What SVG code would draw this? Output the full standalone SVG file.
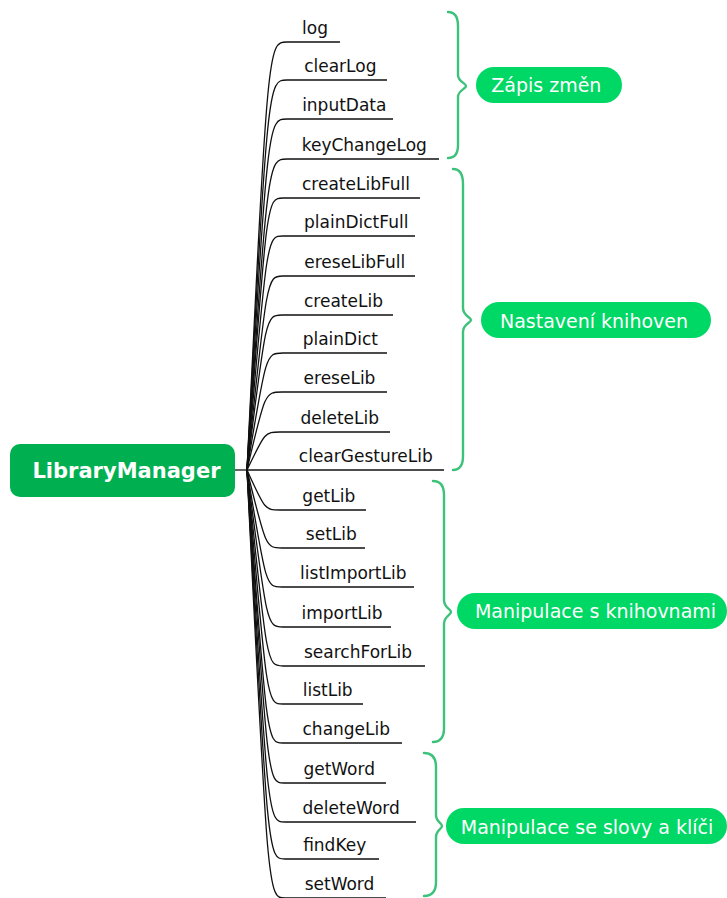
<svg xmlns="http://www.w3.org/2000/svg" width="727" height="898" viewBox="0 0 727 898">
  <style>
    .branch { fill: none; stroke: #111; stroke-width: 1.3; }
    .brace { fill: none; stroke: #3cc27a; stroke-width: 2.4; stroke-linecap: round; stroke-linejoin: round; }
    .item { font-family: "DejaVu Sans", Verdana, sans-serif; font-size: 17px; fill: #111; text-anchor: middle; }
    .root-box { fill: #00b050; }
    .root-text { font-family: "DejaVu Sans", Verdana, sans-serif; font-size: 21px; font-weight: bold; fill: #fff; text-anchor: middle; }
    .group-box { fill: #00d865; }
    .group-text { font-family: "DejaVu Sans", Verdana, sans-serif; font-size: 19px; fill: #fff; text-anchor: middle; }
  </style>

  <!-- connectors: root to each method, curve then underline -->
  <g id="connectors">
    <path class="branch" d="M235,470 L247,470"/>
    <path class="branch" d="M247,470 C268,42 268,42 287,42 L340,42"/>
    <path class="branch" d="M247,470 C268,80 268,80 287,80 L387,80"/>
    <path class="branch" d="M247,470 C268,119 268,119 287,119 L393,119"/>
    <path class="branch" d="M247,470 C268,159 268,159 287,159 L439,159"/>
    <path class="branch" d="M247,470 C267,198 267,198 283,198 L420,198"/>
    <path class="branch" d="M247,470 C267,236 267,236 283,236 L415,236"/>
    <path class="branch" d="M247,470 C267,276 267,276 283,276 L415,276"/>
    <path class="branch" d="M247,470 C266,315 266,315 282,315 L393,315"/>
    <path class="branch" d="M247,470 C266,353 266,353 283,353 L387,353"/>
    <path class="branch" d="M247,470 C265,392 265,392 282,392 L387,392"/>
    <path class="branch" d="M247,470 C265,432 265,432 280,432 L390,432"/>
    <path class="branch" d="M247,470 L444,470"/>
    <path class="branch" d="M247,470 C265,510 265,510 280,510 L366,510"/>
    <path class="branch" d="M247,470 C266,548 266,548 282,548 L365,548"/>
    <path class="branch" d="M247,470 C266,587 266,587 282,587 L414,587"/>
    <path class="branch" d="M247,470 C267,627 267,627 283,627 L391,627"/>
    <path class="branch" d="M247,470 C267,666 267,666 283,666 L425,666"/>
    <path class="branch" d="M247,470 C267,704 267,704 283,704 L363,704"/>
    <path class="branch" d="M247,470 C267,743 267,743 283,743 L402,743"/>
    <path class="branch" d="M247,470 C268,783 268,783 284,783 L386,783"/>
    <path class="branch" d="M247,470 C268,822 268,822 285,822 L416,822"/>
    <path class="branch" d="M247,470 C268,859 268,859 285,859 L379,859"/>
    <path class="branch" d="M247,470 C268,898 268,898 285,898 L386,898"/>
  </g>

  <!-- root topic -->
  <g id="root">
    <rect class="root-box" x="10" y="444" width="225" height="53" rx="10"/>
    <text class="root-text" x="126.5" y="478">LibraryManager</text>
  </g>

  <!-- method labels -->
  <g id="n-log"><text class="item" x="315" y="33.5">log</text></g>
  <g id="n-clearLog"><text class="item" x="340.3" y="71.5">clearLog</text></g>
  <g id="n-inputData"><text class="item" x="344.3" y="110.5">inputData</text></g>
  <g id="n-keyChangeLog"><text class="item" x="364.3" y="150.5">keyChangeLog</text></g>
  <g id="n-createLibFull"><text class="item" x="356" y="189.5">createLibFull</text></g>
  <g id="n-plainDictFull"><text class="item" x="356.2" y="227.5">plainDictFull</text></g>
  <g id="n-ereseLibFull"><text class="item" x="354.7" y="267.5">ereseLibFull</text></g>
  <g id="n-createLib"><text class="item" x="343.5" y="306.5">createLib</text></g>
  <g id="n-plainDict"><text class="item" x="340.3" y="344.5">plainDict</text></g>
  <g id="n-ereseLib"><text class="item" x="339.5" y="383.5">ereseLib</text></g>
  <g id="n-deleteLib"><text class="item" x="339.8" y="423.5">deleteLib</text></g>
  <g id="n-clearGestureLib"><text class="item" x="365.8" y="461.5">clearGestureLib</text></g>
  <g id="n-getLib"><text class="item" x="328.8" y="501.5">getLib</text></g>
  <g id="n-setLib"><text class="item" x="331.3" y="539.5">setLib</text></g>
  <g id="n-listImportLib"><text class="item" x="353.3" y="578.5">listImportLib</text></g>
  <g id="n-importLib"><text class="item" x="342" y="618.5">importLib</text></g>
  <g id="n-searchForLib"><text class="item" x="358" y="657.5">searchForLib</text></g>
  <g id="n-listLib"><text class="item" x="327.7" y="695.5">listLib</text></g>
  <g id="n-changeLib"><text class="item" x="346.3" y="734.5">changeLib</text></g>
  <g id="n-getWord"><text class="item" x="339.2" y="774.5">getWord</text></g>
  <g id="n-deleteWord"><text class="item" x="351.2" y="813.5">deleteWord</text></g>
  <g id="n-findKey"><text class="item" x="334.7" y="850.5">findKey</text></g>
  <g id="n-setWord"><text class="item" x="339.5" y="889.5">setWord</text></g>

  <!-- group braces and summary labels -->
  <g id="g-zapis">
    <path class="brace" d="M448,12 Q458,12 458,26 L458,75 C458,82 466,83 466,86 C466,89 458,90 458,97 L458,145 Q458,158 448,158"/>
    <rect class="group-box" x="476" y="67" width="146" height="36" rx="18"/>
    <text class="group-text" x="546.3" y="92">Zápis změn</text>
  </g>
  <g id="g-nastaveni">
    <path class="brace" d="M453,169 Q463,169 463,184 L463,308 C463,316 471,317 471,320 C471,323 463,324 463,332 L463,456 Q463,470 453,470"/>
    <rect class="group-box" x="481" y="302" width="230" height="36" rx="18"/>
    <text class="group-text" x="594" y="328">Nastavení knihoven</text>
  </g>
  <g id="g-knihovny">
    <path class="brace" d="M433,481 Q444,481 444,495 L444,600 C444,608 451,609 451,612 C451,615 444,616 444,624 L444,728 Q444,742 433,742"/>
    <rect class="group-box" x="457" y="593" width="270" height="36" rx="18"/>
    <text class="group-text" x="595.5" y="618">Manipulace s knihovnami</text>
  </g>
  <g id="g-slova">
    <path class="brace" d="M424,753 Q436,753 436,767 L436,815 C436,822 442,823 442,826 C442,829 436,830 436,837 L436,882 Q436,896 424,896"/>
    <rect class="group-box" x="446" y="808" width="281" height="36" rx="18"/>
    <text class="group-text" x="587" y="834">Manipulace se slovy a klíči</text>
  </g>
</svg>
